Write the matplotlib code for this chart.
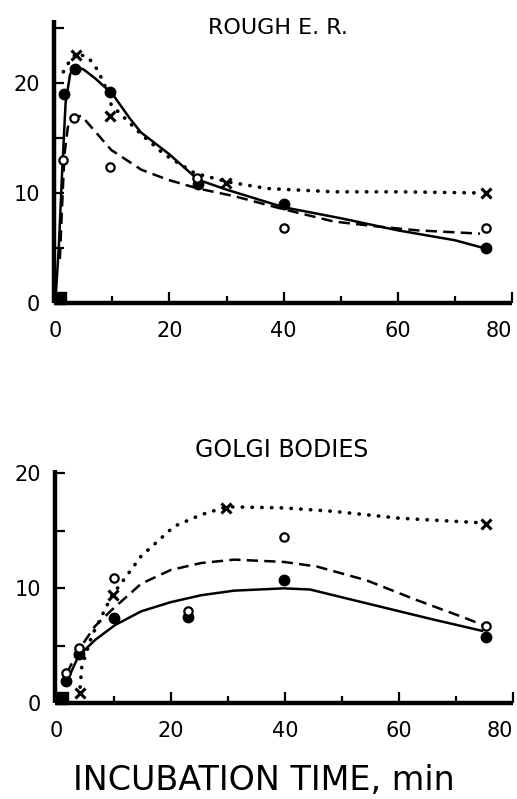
import matplotlib.pyplot as plt
from matplotlib.ticker import MultipleLocator

# ---- data (time in min) ----
# Rough E.R. measured points
er_filled_t = [1.5, 3.5, 9.5, 25, 40, 75.5]
er_filled_v = [19.0, 21.3, 19.2, 10.8, 9.0, 5.0]
er_open_t = [1.4, 3.3, 9.5, 24.9, 40, 75.5]
er_open_v = [13.0, 16.8, 12.4, 11.4, 6.8, 6.8]
er_x_t = [3.6, 9.5, 29.9, 75.4]
er_x_v = [22.5, 17.0, 10.9, 10.0]

# Rough E.R. fitted curves
er_solid_t = [0, 0.6, 1.2, 1.8, 2.6, 3.6, 5, 7, 10, 13, 15, 20, 25, 30, 40, 50, 60, 70, 75]
er_solid_v = [0, 5, 12, 18.2, 20.8, 21.5, 21.2, 20.4, 19.0, 16.8, 15.5, 13.5, 11.2, 10.3, 8.7, 7.7, 6.6, 5.7, 5.0]
er_dash_t = [0.8, 1.2, 1.6, 2.2, 3.2, 4.6, 9.8, 15.1, 19.7, 25, 31.4, 40.1, 48.8, 56.4, 63.4, 74.4]
er_dash_v = [4, 9, 13.5, 16.0, 16.9, 17.0, 13.9, 12.1, 11.2, 10.4, 9.7, 8.5, 7.4, 6.95, 6.6, 6.3]
er_dot_t = [1.4, 2.3, 3.7, 5.8, 7.5, 8.7, 9.8, 15.1, 19.1, 24.4, 30.2, 37.2, 48.8, 60.4, 74.4]
er_dot_v = [21.0, 21.8, 22.7, 22.3, 21.1, 19.7, 18.0, 15.3, 13.5, 11.8, 11.0, 10.4, 10.1, 10.1, 10.0]

# Golgi bodies measured points
go_filled_t = [1.7, 3.9, 10, 23.1, 39.9, 75.2]
go_filled_v = [1.9, 4.3, 7.4, 7.5, 10.7, 5.8]
go_open_t = [1.7, 3.9, 10, 23.1, 39.9, 75.2]
go_open_v = [2.6, 4.8, 10.9, 8.0, 14.5, 6.7]
go_x_t = [4.1, 9.9, 29.6, 75.2]
go_x_v = [0.9, 9.4, 17.0, 15.6]

# Golgi bodies fitted curves
go_solid_t = [1.5, 3.8, 6.7, 10.2, 14.8, 20, 25.3, 31.1, 39.8, 44.4, 54.3, 65.9, 74.6]
go_solid_v = [1.6, 4.1, 5.5, 6.8, 8.0, 8.8, 9.4, 9.8, 10.0, 9.9, 8.7, 7.3, 6.3]
go_dash_t = [1.75, 3.8, 6.7, 9.6, 14.8, 20, 25.3, 31.1, 39.8, 45.6, 54.3, 63, 71.7, 75.2]
go_dash_v = [2.6, 4.6, 6.7, 8.1, 10.4, 11.6, 12.2, 12.5, 12.3, 11.9, 10.7, 9.0, 7.4, 6.7]
go_dot_t = [4.1, 4.4, 6.1, 9.6, 14.8, 20.6, 25.3, 29.8, 39.8, 48.5, 60.1, 74.6]
go_dot_v = [1.4, 3.2, 5.8, 9.3, 12.8, 15.4, 16.4, 17.1, 17.0, 16.7, 16.1, 15.7]

x_ticks = [0, 20, 40, 60, 80]
x_labels = ["0", "20", "40", "60", "80"]
y_ticks = [0, 10, 20]
y_labels = ["0", "10", "20"]

plt.rcParams["font.family"] = ["DejaVu Sans"]

fig = plt.figure(figsize=(5.17, 7.99), dpi=100)
ax1 = fig.add_axes([0.1037, 0.6208, 0.8866, 0.354])
ax2 = fig.add_axes([0.1064, 0.1198, 0.8860, 0.292])


def style_axes(ax, ytop):
    ax.set_xlim(-0.3, 80)
    ax.set_ylim(0, ytop)
    for s in ["top", "right"]:
        ax.spines[s].set_visible(False)
    for s in ["left", "bottom"]:
        ax.spines[s].set_linewidth(3.2)
        ax.spines[s].set_capstyle("butt")
    ax.set_xticks(x_ticks)
    ax.set_xticklabels(x_labels)
    ax.set_yticks(y_ticks)
    ax.set_yticklabels(y_labels)
    ax.xaxis.set_minor_locator(MultipleLocator(10))
    ax.yaxis.set_minor_locator(MultipleLocator(5))
    ax.tick_params(axis="x", which="major", direction="in", length=8, width=1.6,
                   labelsize=15, pad=13)
    ax.tick_params(axis="x", which="minor", direction="in", length=5, width=1.6)
    ax.tick_params(axis="y", which="both", direction="in", length=7, width=1.6,
                   labelsize=15, pad=10)
    ax.get_xticklabels()[-1].set_horizontalalignment("right")


def draw_panel(ax, st, sv, dt, dv, ot, ov, ft, fv, opt, opv, xt, xv):
    ax.plot(st, sv, color="black", lw=1.8, solid_capstyle="round")
    ax.plot(dt, dv, color="black", lw=1.8, dashes=(4.5, 2.5))
    ax.plot(ot, ov, color="black", lw=2.6, linestyle=(0, (0.1, 2.6)),
            dash_capstyle="round")
    ax.plot(ft, fv, "o", color="black", ms=7.5, clip_on=False, zorder=5)
    ax.plot(opt, opv, "o", mfc="white", mec="black", ms=6, mew=1.6,
            clip_on=False, zorder=6)
    ax.plot(xt, xv, "x", color="black", ms=7, mew=2.2, clip_on=False, zorder=6)
    ax.plot([0.9], [0.45], "s", color="black", ms=8, clip_on=False, zorder=6)


style_axes(ax1, 25.7)
draw_panel(ax1, er_solid_t, er_solid_v, er_dash_t, er_dash_v, er_dot_t, er_dot_v,
           er_filled_t, er_filled_v, er_open_t, er_open_v, er_x_t, er_x_v)
fig.text(0.537, 1 - 28 / 799, "ROUGH E. R.", ha="center", va="center", fontsize=16)

style_axes(ax2, 20.3)
draw_panel(ax2, go_solid_t, go_solid_v, go_dash_t, go_dash_v, go_dot_t, go_dot_v,
           go_filled_t, go_filled_v, go_open_t, go_open_v, go_x_t, go_x_v)
fig.text(0.545, 1 - 450 / 799, "GOLGI BODIES", ha="center", va="center", fontsize=17)

fig.text(0.51, 1 - 790 / 799, "INCUBATION TIME, min", ha="center", va="baseline",
         fontsize=24)

plt.savefig("out.png", dpi=100)
plt.close()
